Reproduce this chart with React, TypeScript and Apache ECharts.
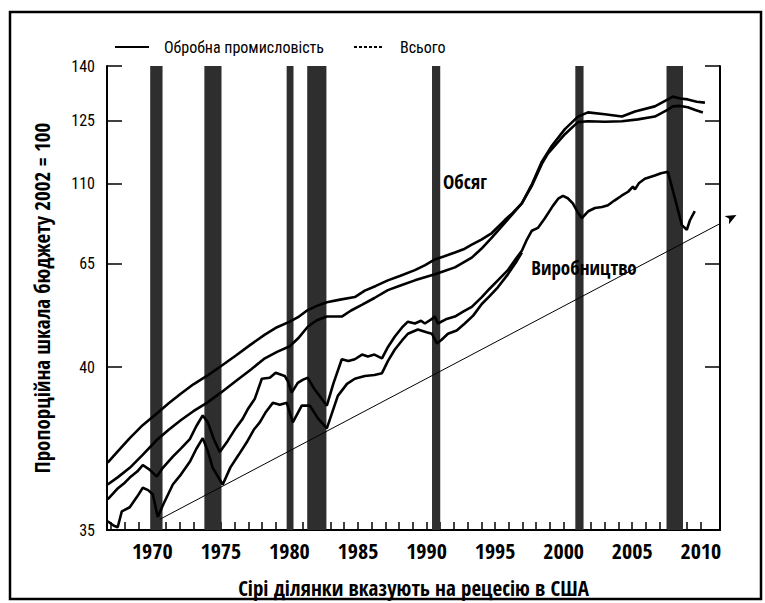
import React, { useEffect, useRef } from 'react';
import * as echarts from 'echarts';

// Y axis is a proportional scale; tick positions in axis units and their printed labels
const yTickValues = [0, 35.1, 57.4, 74.6, 88.3, 100];
const yTickLabels = ['35', '40', '65', '110', '125', '140'];

const xLabelYears = [1970, 1975, 1980, 1985, 1990, 1995, 2000, 2005, 2010];
const xTickYears = [
  1967, 1968, 1969, 1970, 1971, 1972, 1973, 1974, 1975, 1976, 1977, 1978, 1979, 1980,
  1981, 1982, 1983, 1984, 1985, 1986, 1987, 1988, 1989, 1990, 1991, 1992, 1993, 1994,
  1995, 1996, 1997, 1998, 1999, 2000, 2001, 2002, 2003, 2004, 2005, 2006, 2007, 2008,
  2009, 2010,
];

// US recessions [start, end]
const recessions: [number, number][] = [
  [1969.85, 1970.75], [1973.8, 1975.05], [1979.8, 1980.3], [1981.3, 1982.7],
  [1990.4, 1991.0], [2000.85, 2001.45], [2007.5, 2008.7],
];

// Capacity ("Обсяг") — total
const capacityTotal: [number, number][] = [
  [1966.75, 14.5], [1967.5, 17.0], [1968.36, 19.8], [1969.3, 22.6], [1970.33, 25.1],
  [1971.2, 27.3], [1972.1, 29.4], [1973.0, 31.4], [1973.98, 33.2], [1975.0, 35.3],
  [1976.1, 37.6], [1977.2, 40.0], [1978.21, 42.1], [1979.1, 43.7], [1980.03, 44.9],
  [1980.7, 46.0], [1981.34, 47.4], [1982.0, 48.3], [1982.73, 49.1], [1983.6, 49.6],
  [1984.77, 50.2], [1985.5, 51.6], [1986.3, 52.6], [1987.18, 53.8], [1988.1, 54.8],
  [1989.15, 56.0], [1989.9, 57.1], [1990.61, 58.3], [1991.3, 59.0], [1992.07, 59.8],
  [1992.7, 60.5], [1993.3, 61.5], [1994.0, 62.6], [1994.76, 64.0], [1995.71, 66.8],
  [1996.3, 68.4], [1996.95, 70.4], [1997.7, 74.6], [1998.41, 79.4], [1999.14, 82.8],
  [2000.09, 86.4], [2001.04, 89.1], [2001.77, 90.0], [2003.0, 89.6], [2004.25, 89.1],
  [2005.2, 90.2], [2006.65, 91.3], [2007.6, 92.8], [2007.96, 93.4], [2008.5, 93.0],
  [2009.05, 92.8], [2009.7, 92.3], [2010.3, 92.1],
];

// Capacity ("Обсяг") — manufacturing
const capacityMfg: [number, number][] = [
  [1966.75, 9.8], [1967.5, 11.4], [1968.36, 13.4], [1969.3, 16.2], [1970.33, 19.4],
  [1971.2, 21.6], [1972.1, 23.7], [1973.0, 25.6], [1973.98, 27.4], [1975.0, 29.6],
  [1976.1, 32.1], [1977.2, 34.6], [1978.21, 37.0], [1979.1, 38.4], [1980.03, 39.6],
  [1980.7, 41.5], [1981.34, 43.8], [1982.0, 45.2], [1982.73, 46.0], [1983.82, 46.0],
  [1984.5, 47.3], [1985.28, 48.5], [1986.2, 50.0], [1987.18, 51.7], [1988.2, 52.8],
  [1989.15, 53.8], [1990.61, 55.1], [1991.3, 55.8], [1992.07, 56.6], [1993.3, 58.7],
  [1994.0, 60.6], [1994.76, 63.0], [1995.71, 66.2], [1996.95, 70.4], [1997.7, 74.3],
  [1998.41, 78.9], [1998.85, 81.1], [2000.09, 85.3], [2001.04, 87.9], [2001.77, 88.1],
  [2003.0, 88.0], [2004.25, 88.1], [2005.41, 88.5], [2006.65, 89.1], [2007.6, 90.6],
  [2007.96, 91.3], [2008.5, 91.4], [2009.05, 91.1], [2009.6, 90.5], [2010.15, 90.0],
];

// Production ("Виробництво") — total
const productionTotal: [number, number][] = [
  [1966.75, 6.6], [1967.5, 9.0], [1968.0, 10.2], [1968.36, 11.3], [1968.9, 12.6],
  [1969.31, 14.0], [1969.8, 13.0], [1970.33, 11.5], [1970.77, 13.4], [1971.5, 15.8],
  [1972.1, 17.6], [1972.74, 19.6], [1973.2, 22.3], [1973.68, 24.7], [1974.05, 23.2],
  [1974.5, 19.5], [1974.92, 16.8], [1975.5, 19.2], [1976.1, 22.0], [1976.6, 24.0],
  [1977.0, 26.2], [1977.48, 28.3], [1977.99, 32.6], [1978.57, 32.8], [1979.0, 33.9],
  [1979.66, 33.2], [1979.9, 32.0], [1980.17, 29.6], [1980.61, 31.7], [1981.0, 32.4],
  [1981.34, 32.8], [1981.8, 30.5], [1982.3, 28.5], [1982.73, 26.8], [1983.2, 31.5],
  [1983.82, 36.8], [1984.3, 36.4], [1984.77, 36.8], [1985.3, 37.8], [1985.72, 37.4],
  [1986.2, 37.8], [1986.75, 37.0], [1987.2, 39.5], [1987.69, 41.7], [1988.2, 43.6],
  [1988.64, 44.9], [1989.15, 44.5], [1989.6, 45.1], [1989.88, 44.5], [1990.4, 45.5],
  [1990.61, 46.0], [1990.83, 44.5], [1991.4, 45.4], [1992.07, 46.0], [1992.7, 47.1],
  [1993.3, 48.1], [1994.03, 50.2], [1994.6, 52.0], [1995.2, 53.8], [1995.93, 56.0],
  [1996.5, 58.4], [1996.95, 60.2], [1997.32, 62.6], [1997.68, 64.5], [1998.12, 65.1],
  [1998.63, 67.2], [1999.2, 69.8], [1999.6, 71.4], [1999.95, 72.0], [2000.3, 71.5],
  [2000.67, 70.4], [2001.0, 68.6], [2001.33, 67.2], [2001.8, 68.7], [2002.28, 69.4],
  [2002.8, 69.6], [2003.23, 70.0], [2003.7, 71.0], [2004.25, 72.1], [2004.7, 72.9],
  [2005.05, 74.0], [2005.2, 73.4], [2005.5, 74.8], [2005.92, 75.7], [2006.65, 76.4],
  [2007.1, 76.9], [2007.6, 77.2], [2008.11, 71.5], [2008.62, 65.7], [2008.98, 64.7],
  [2009.2, 66.7], [2009.56, 68.7],
];

// Production ("Виробництво") — manufacturing
const productionMfg: [number, number][] = [
  [1966.75, 1.9], [1967.2, 0.9], [1967.48, 0.6], [1967.78, 4.0], [1968.36, 4.9],
  [1968.9, 7.2], [1969.31, 9.1], [1969.7, 8.6], [1970.04, 7.7], [1970.4, 2.8],
  [1970.8, 5.5], [1971.5, 9.8], [1972.1, 12.0], [1972.74, 14.7], [1973.2, 17.4],
  [1973.68, 19.8], [1974.05, 17.0], [1974.41, 13.4], [1975.14, 9.8], [1975.7, 13.5],
  [1976.3, 16.2], [1976.89, 18.9], [1977.4, 21.6], [1977.84, 23.2], [1978.3, 25.5],
  [1978.79, 27.4], [1979.3, 27.0], [1979.81, 27.4], [1980.25, 23.2], [1980.9, 26.8],
  [1981.49, 26.8], [1982.1, 24.0], [1982.73, 21.9], [1983.53, 28.9], [1984.2, 31.5],
  [1984.77, 32.6], [1985.5, 33.2], [1986.2, 33.4], [1986.75, 33.8], [1987.2, 36.5],
  [1987.69, 38.9], [1988.2, 40.8], [1988.64, 42.3], [1989.37, 43.2], [1990.0, 42.6],
  [1990.39, 42.3], [1990.76, 40.2], [1991.1, 41.0], [1991.56, 42.3], [1992.2, 43.0],
  [1992.79, 44.5], [1993.4, 46.2], [1994.03, 48.7], [1994.6, 50.4], [1995.2, 52.3],
  [1995.93, 55.1], [1996.5, 57.6], [1996.95, 59.8],
];

// Trend arrow: start and end
const trendStart: [number, number] = [1970.55, 2.3];
const trendEnd: [number, number] = [2012.6, 67.9];

const BOLD_FONT = "'Open Sans Condensed', 'Roboto Condensed', sans-serif";
const REG_FONT = "'Roboto Condensed', 'Open Sans Condensed', sans-serif";
const NAME_MFG = 'Обробна промисловість';
const NAME_TOTAL = 'Всього';

const SOLID_ICON = 'path://M0,0H34V2H0Z';
const DOTTED_ICON =
  'path://M0,0H3V2H0Z M5,0H8V2H5Z M10,0H13V2H10Z M15,0H18V2H15Z M20,0H23V2H20Z M25,0H28V2H25Z';

export default function App() {
  const ref = useRef<HTMLDivElement>(null);

  useEffect(() => {
    document.body.style.margin = '0';
    const chart = echarts.init(ref.current!, null, { renderer: 'svg' });

    const lineSeries = (name: string, data: [number, number][]) => ({
      name,
      type: 'line',
      data,
      symbol: 'none',
      showSymbol: false,
      lineStyle: { color: '#000', width: 2.6 },
      itemStyle: { color: '#000' },
      z: 4,
    });

    const yAxisBase = {
      type: 'value',
      min: 0,
      max: 100,
      splitLine: { show: false },
      axisLine: { show: true, lineStyle: { color: '#000', width: 2 } },
      axisTick: {
        show: true,
        inside: true,
        length: 15,
        customValues: yTickValues,
        lineStyle: { color: '#000', width: 1.5 },
      },
    };

    const option: any = {
      animation: false,
      backgroundColor: '#fff',
      grid: { left: 107, right: 45, top: 66, bottom: 67 },
      legend: {
        left: 110,
        top: 34,
        itemWidth: 34,
        itemHeight: 2,
        itemGap: 30,
        selectedMode: false,
        textStyle: { fontFamily: REG_FONT, fontSize: 16, color: '#000', padding: [0, 0, 0, 10] },
        data: [
          { name: NAME_MFG, icon: SOLID_ICON, itemStyle: { color: '#000' } },
          { name: NAME_TOTAL, icon: DOTTED_ICON, itemStyle: { color: '#000' } },
        ],
      },
      xAxis: {
        type: 'value',
        min: 1966.7,
        max: 2011.4,
        splitLine: { show: false },
        axisLine: { show: true, lineStyle: { color: '#000', width: 2 } },
        axisTick: {
          show: true,
          inside: true,
          length: 8,
          customValues: xTickYears,
          lineStyle: { color: '#000', width: 1.5 },
        },
        axisLabel: {
          customValues: xLabelYears,
          formatter: (v: number) => String(v),
          fontFamily: BOLD_FONT,
          fontWeight: 'bold',
          fontSize: 22,
          color: '#000',
          margin: 9,
        },
        name: 'Сірі ділянки вказують на рецесію в США',
        nameLocation: 'middle',
        nameGap: 47,
        nameTextStyle: { fontFamily: BOLD_FONT, fontWeight: 'bold', fontSize: 21, color: '#000' },
      },
      yAxis: [
        {
          ...yAxisBase,
          position: 'left',
          axisLabel: {
            customValues: yTickValues,
            formatter: (v: number) => {
              const i = yTickValues.findIndex((t) => Math.abs(t - v) < 1e-6);
              return i >= 0 ? yTickLabels[i] : '';
            },
            fontFamily: REG_FONT,
            fontSize: 16,
            color: '#000',
            margin: 12,
          },
          name: 'Пропорційна шкала бюджету 2002 = 100',
          nameLocation: 'middle',
          nameGap: 55,
          nameRotate: 90,
          nameTextStyle: { fontFamily: BOLD_FONT, fontWeight: 'bold', fontSize: 21, color: '#000' },
        },
        {
          ...yAxisBase,
          position: 'right',
          axisLabel: { show: false },
        },
      ],
      series: [
        {
          name: 'recessions',
          type: 'line',
          data: [],
          silent: true,
          markArea: {
            silent: true,
            itemStyle: { color: '#2e2e2e' },
            data: recessions.map(([a, b]) => [{ xAxis: a }, { xAxis: b }]),
          },
          z: 1,
        },
        lineSeries(NAME_TOTAL, capacityTotal),
        lineSeries(NAME_MFG, capacityMfg),
        lineSeries(NAME_TOTAL, productionTotal),
        lineSeries(NAME_MFG, productionMfg),
        {
          name: 'trend',
          type: 'line',
          clip: false,
          silent: true,
          showSymbol: true,
          symbol: 'none',
          lineStyle: { color: '#000', width: 1 },
          itemStyle: { color: '#000' },
          data: [
            { value: trendStart, symbol: 'none' },
            { value: trendEnd, symbol: 'arrow', symbolSize: [7, 11], symbolRotate: -62 },
          ],
          z: 3,
        },
      ],
      graphic: [
        {
          type: 'rect',
          shape: { x: 10, y: 12, width: 751, height: 587 },
          style: { fill: 'none', stroke: '#000', lineWidth: 2.5 },
          silent: true,
        },
        {
          type: 'text',
          x: 465,
          y: 182,
          style: {
            text: 'Обсяг',
            fontFamily: BOLD_FONT,
            fontWeight: 'bold',
            fontSize: 19,
            fill: '#000',
            align: 'center',
            verticalAlign: 'middle',
          },
        },
        {
          type: 'text',
          x: 584,
          y: 268,
          z: 10,
          style: {
            text: 'Виробництво',
            fontFamily: BOLD_FONT,
            fontWeight: 'bold',
            fontSize: 19,
            fill: '#000',
            align: 'center',
            verticalAlign: 'middle',
          },
        },
      ],
    };

    chart.setOption(option);
    return () => chart.dispose();
  }, []);

  return <div ref={ref} style={{ width: 765, height: 603 }} />;
}
